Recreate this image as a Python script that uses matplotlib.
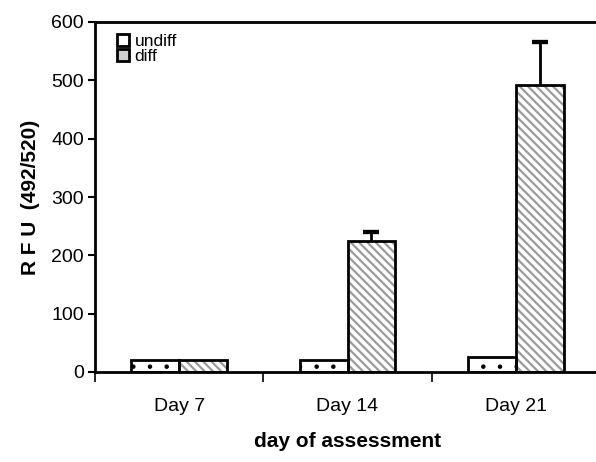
import matplotlib.pyplot as plt
import numpy as np

plt.rcParams['font.family'] = ['Liberation Sans', 'DejaVu Sans']

# data
days = ["Day 7", "Day 14", "Day 21"]
undiff = [20, 20, 25]
diff = [20, 225, 492]
diff_err = [0, 15, 73]

fig = plt.figure(figsize=(5.96, 4.62), dpi=100)
ax = fig.add_axes([95 / 596, 1 - 372 / 462, 505 / 596, 350 / 462])

centers = np.arange(len(days)) + 0.5
w = 0.285

# undiff: white with sparse black dots
with plt.rc_context({"hatch.linewidth": 0.8}):
    ax.bar(centers - w / 2, undiff, w, color="white", edgecolor="black",
           hatch=".", linewidth=0)
# diff: gray diagonal stripes
with plt.rc_context({"hatch.linewidth": 1.6}):
    ax.bar(centers + w / 2, diff, w, color="white", edgecolor="#9a9a9a",
           hatch="\\\\\\\\", linewidth=0)
# outlines on top
ax.bar(centers - w / 2, undiff, w, fill=False, edgecolor="black", linewidth=2)
ax.bar(centers + w / 2, diff, w, fill=False, edgecolor="black", linewidth=2)

# upper error bars only (no cap at the bar top)
err_x = np.array([c + w / 2 for c, e in zip(centers, diff_err) if e > 0])
err_y = np.array([d for d, e in zip(diff, diff_err) if e > 0])
err_v = np.array([e for e in diff_err if e > 0])
ax.vlines(err_x, err_y, err_y + err_v, color="black", linewidth=2)
ax.errorbar(err_x, err_y + err_v, yerr=np.zeros(len(err_v)), fmt="none",
            ecolor="black", elinewidth=0, capsize=6, capthick=3)

ax.set_xlim(0, 3)
ax.set_ylim(0, 600)
ax.set_yticks(range(0, 601, 100))
ax.tick_params(axis="y", direction="out", length=5, width=1.5, labelsize=14, pad=3)

ax.set_xticks([0, 1, 2, 3])
ax.set_xticklabels([])
ax.set_xticks(centers, minor=True)
ax.set_xticklabels(days, minor=True)
ax.tick_params(axis="x", which="major", direction="out", length=7, width=1.2)
ax.tick_params(axis="x", which="minor", length=0, labelsize=14, pad=19)

for s in ["left", "bottom", "top"]:
    ax.spines[s].set_linewidth(2)
ax.spines["right"].set_visible(False)

ax.set_xlabel("day of assessment", fontsize=15, fontweight="bold", labelpad=12)
ax.set_ylabel("R F U  (492/520)", fontsize=15, fontweight="bold", labelpad=8)

# legend
h_undiff = plt.Rectangle((0, 0), 1, 1, facecolor="white", edgecolor="black",
                         linewidth=2)
h_diff = plt.Rectangle((0, 0), 1, 1, facecolor="#d0d0d0", edgecolor="black",
                       linewidth=2)
ax.legend(
    handles=[h_undiff, h_diff],
    labels=["undiff", "diff"],
    loc="upper left", bbox_to_anchor=(0.02, 1.0), frameon=False,
    fontsize=12.5, handlelength=0.7, handleheight=0.7, handletextpad=0.3,
    labelspacing=0.0, borderaxespad=0.3,
)

fig.savefig("out.png", dpi=100)
